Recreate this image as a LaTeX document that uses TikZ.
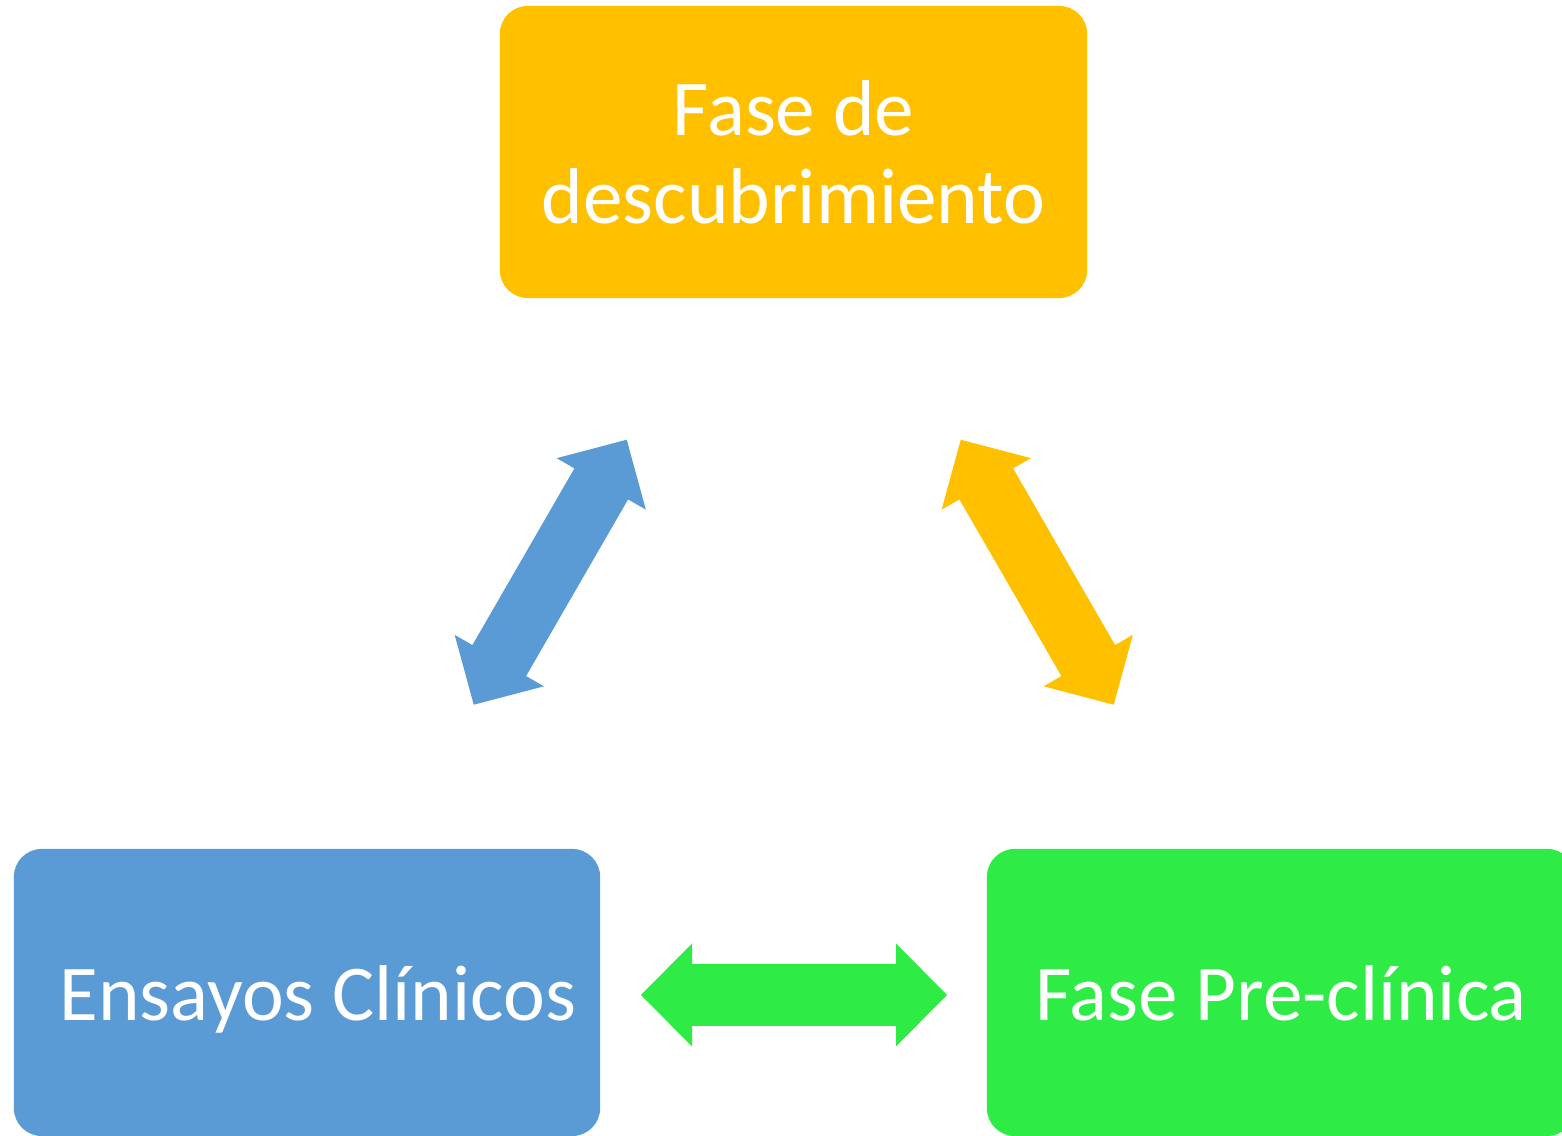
\documentclass[tikz,border=0pt]{standalone}
\usepackage{fontspec}
\setmainfont{Carlito}
\usetikzlibrary{calc}
\definecolor{phasegold}{RGB}{255,192,0}
\definecolor{phaseblue}{RGB}{91,155,213}
\definecolor{phasegreen}{RGB}{47,235,70}
\newcommand\BiArrow[3]{%
  \begin{scope}[shift={(#2)},rotate=#3]
    \fill[#1] (-153,0) -- (-102,51.5) -- (-102,31) -- (102,31) -- (102,51.5) -- (153,0)
      -- (102,-51.5) -- (102,-31) -- (-102,-31) -- (-102,-51.5) -- cycle;
  \end{scope}%
}

\begin{document}
\begin{tikzpicture}[x=0.01cm,y=0.01cm,
  phase/.style={rectangle,rounded corners=0.28cm,text=white,align=center,inner sep=0,
    font=\fontsize{22.5}{25}\selectfont},
  lower/.style={phase,minimum height=2.87cm,text height=0.75cm,text depth=0.2cm}]
\useasboundingbox (0,0) rectangle (1562,1136);
\node[phase,fill=phasegold,minimum width=5.87cm,minimum height=2.92cm] (disc) at (793.5,984) {Fase de\\descubrimiento};
\node[lower,fill=phaseblue,minimum width=5.86cm] (clin) at (307,143.5) {\hspace*{0.22cm}Ensayos Clínicos};
\node[lower,fill=phasegreen,minimum width=5.88cm] (prec) at (1281,143.5) {Fase Pre-clínica};
\coordinate (dc) at ($(disc)!0.5!(clin)$);
\coordinate (dp) at ($(disc)!0.5!(prec)$);
\coordinate (cp) at ($(clin)!0.5!(prec)+(0,-2.5)$);
\BiArrow{phaseblue}{dc}{60}
\BiArrow{phasegold}{dp}{-60}
\BiArrow{phasegreen}{cp}{0}
\end{tikzpicture}
\end{document}
